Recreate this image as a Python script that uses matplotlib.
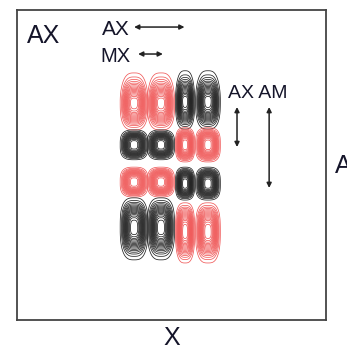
import numpy as np
import matplotlib
matplotlib.use("Agg")
import matplotlib.pyplot as plt

plt.rcParams['font.family'] = ['Liberation Sans', 'DejaVu Sans']

# lobe layout (units of the 0..10 box)
col_x = [3.79, 4.66, 5.44, 6.18]
col_hw = [0.45, 0.44, 0.31, 0.40]
row_y_left = [7.05, 5.65, 4.45, 2.94]
row_hh_left = [0.92, 0.48, 0.48, 1.00]
row_y_right = [7.10, 5.65, 4.40, 2.81]
row_hh_right = [0.94, 0.55, 0.53, 0.97]
row_p_top = [1.9, 3.2, 3.2, 3.2]
row_p_bot = [3.0, 3.2, 3.2, 2.4]
signs = [[1, 1, -1, -1],
         [-1, -1, 1, 1],
         [1, 1, -1, -1],
         [-1, -1, 1, 1]]

levels = np.linspace(0.05, 0.95, 17)
red = '#f05a5a'
black = '#222222'
ink = '#15152a'


def lobe(X, Y, cx, cy, hw, hh, p_top, p_bot):
  py = np.where(Y > cy, p_top, p_bot)
  r = np.abs((X - cx) / hw) ** 3.0 + np.abs((Y - cy) / hh) ** py
  return np.exp(-r * np.log(1 / levels[0]))


def main():
  fig = plt.figure(figsize=(3.47, 3.5), dpi=100)
  ax = fig.add_axes([17 / 347, 30 / 350, 309 / 347, 310 / 350])
  x = np.linspace(0, 10, 600)
  y = np.linspace(0, 10, 600)
  X, Y = np.meshgrid(x, y)

  for i in range(4):
    for j in range(4):
      if j < 2:
        cy, hh = row_y_left[i], row_hh_left[i]
      else:
        cy, hh = row_y_right[i], row_hh_right[i]
      Z = lobe(X, Y, col_x[j], cy, col_hw[j], hh, row_p_top[i], row_p_bot[i])
      c = red if signs[i][j] > 0 else black
      ax.contour(X, Y, Z, levels=levels, colors=c, linewidths=0.55)

  arrow = dict(arrowstyle='<|-|>', color=black, lw=1.1,
               mutation_scale=7, shrinkA=0, shrinkB=0)
  ax.annotate('', xy=(3.79, 9.45), xytext=(5.42, 9.45), arrowprops=arrow)
  ax.annotate('', xy=(3.92, 8.58), xytext=(4.72, 8.58), arrowprops=arrow)
  ax.annotate('', xy=(7.12, 6.87), xytext=(7.12, 5.58), arrowprops=arrow)
  ax.annotate('', xy=(8.16, 6.87), xytext=(8.16, 4.26), arrowprops=arrow)

  ax.text(0.32, 8.94, 'AX', fontsize=18, va='baseline', color=ink)
  ax.text(3.66, 9.19, 'AX', fontsize=15, va='baseline', ha='right', color=ink)
  ax.text(3.66, 8.32, 'MX', fontsize=14.5, va='baseline', ha='right', color=ink)
  ax.text(6.83, 7.16, 'AX AM', fontsize=14, va='baseline', color=ink)
  fig.text(335 / 347, (350 - 173) / 350, 'A', fontsize=18, va='baseline', color=ink)

  ax.set_xlim(0, 10)
  ax.set_ylim(0, 10)
  ax.set_xticks([])
  ax.set_yticks([])
  for s in ax.spines.values():
    s.set_color('#444444')
    s.set_linewidth(1.3)
  ax.set_xlabel('X', fontsize=18, labelpad=4, color=ink)
  fig.savefig('out.png', dpi=100)


if __name__ == "__main__":
  main()
